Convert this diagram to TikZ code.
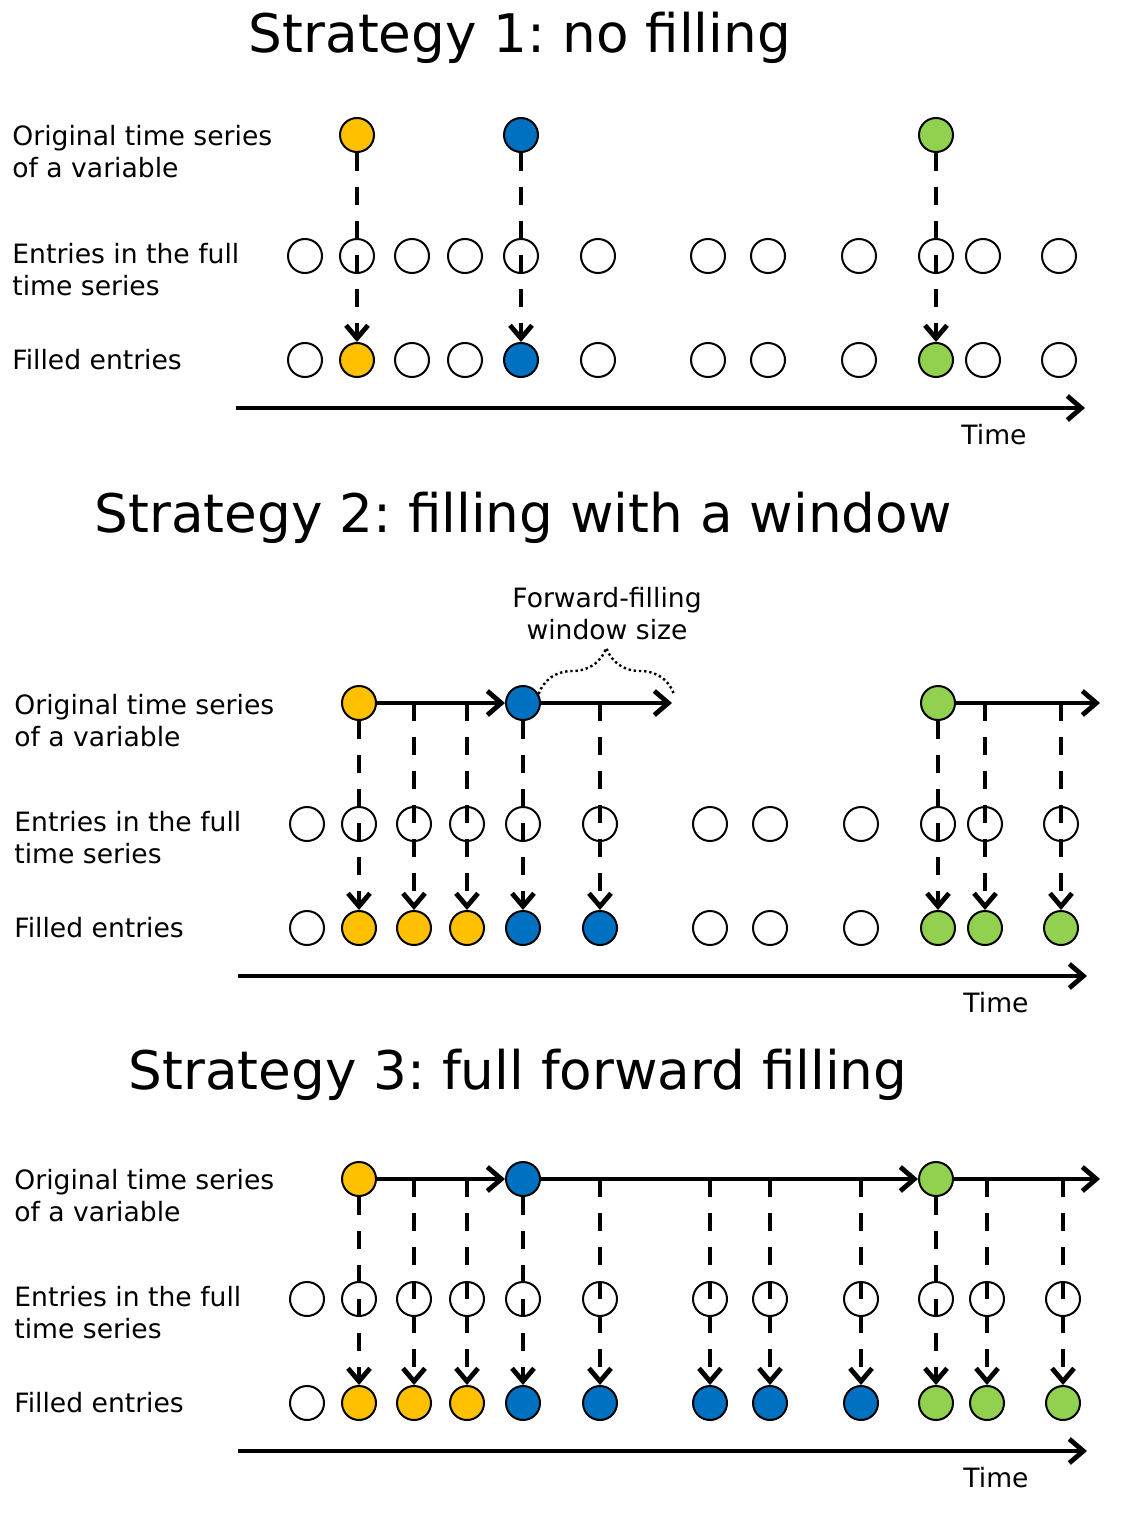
\documentclass[tikz,border=0pt]{standalone}
\usepackage{fontspec}
\setmainfont{DejaVu Sans}
\frenchspacing
\usetikzlibrary{arrows.meta,decorations.pathreplacing}
\definecolor{tsyellow}{HTML}{FFC000}
\definecolor{tsblue}{HTML}{0070C0}
\definecolor{tsgreen}{HTML}{92D050}
\tikzset{
emptyvertex/.style={circle, draw=black!100,fill=white,line width=1pt, inner sep=0pt, minimum size= 17pt},
yellowvertex/.style={emptyvertex, fill=tsyellow},
bluevertex/.style={emptyvertex, fill=tsblue},
greenvertex/.style={emptyvertex, fill=tsgreen},
dasharrow/.style={line width=2.4pt, dash pattern=on 9pt off 8pt, -{Straight Barb[length=6.5pt,width=11pt]}},
solidarrow/.style={line width=2pt, -{Straight Barb[length=7pt,width=12pt,line width=2.4pt]}},
timeaxis/.style={line width=2.2pt, -{Straight Barb[length=7pt,width=12pt,line width=2.4pt]}},
rowlabel/.style={anchor=west, align=left, inner sep=0pt, font=\fontsize{13.3}{16}\selectfont},
titlelabel/.style={inner sep=0pt, font=\fontsize{26.6}{32}\selectfont},
windowbrace/.style={line width=1.2pt, dash pattern=on 1.2pt off 1.4pt, decorate, decoration={brace, amplitude=23pt}},
}

\begin{document}
\begin{tikzpicture}[x=0.5pt,y=-0.5pt]
\useasboundingbox (0,0) rectangle (1120,1514);

% Strategy 1
\begin{scope}[shift={(-2,135)}]
\node[titlelabel] at (522,-97) (title) {Strategy 1: no filling};
\node[rowlabel] at (14,17) (lo) {Original time series\\of a variable};
\node[rowlabel] at (14,135) (le) {Entries in the full\\time series};
\node[rowlabel] at (14,225) (lf) {Filled entries};

\node[emptyvertex] at (307,121) (e1) {};
\node[emptyvertex] at (359,121) (e2) {};
\node[emptyvertex] at (414,121) (e3) {};
\node[emptyvertex] at (467,121) (e4) {};
\node[emptyvertex] at (523,121) (e5) {};
\node[emptyvertex] at (600,121) (e6) {};
\node[emptyvertex] at (710,121) (e7) {};
\node[emptyvertex] at (770,121) (e8) {};
\node[emptyvertex] at (861,121) (e9) {};
\node[emptyvertex] at (938,121) (e10) {};
\node[emptyvertex] at (985,121) (e11) {};
\node[emptyvertex] at (1061,121) (e12) {};

\node[emptyvertex] at (307,225) (f1) {};
\node[yellowvertex] at (359,225) (f2) {};
\node[emptyvertex] at (414,225) (f3) {};
\node[emptyvertex] at (467,225) (f4) {};
\node[bluevertex] at (523,225) (f5) {};
\node[emptyvertex] at (600,225) (f6) {};
\node[emptyvertex] at (710,225) (f7) {};
\node[emptyvertex] at (770,225) (f8) {};
\node[emptyvertex] at (861,225) (f9) {};
\node[greenvertex] at (938,225) (f10) {};
\node[emptyvertex] at (985,225) (f11) {};
\node[emptyvertex] at (1061,225) (f12) {};

\node[yellowvertex] at (359,0) (o1) {};
\node[bluevertex] at (523,0) (o2) {};
\node[greenvertex] at (938,0) (o3) {};

\draw[dasharrow] (o1) -- (f2);
\draw[dasharrow] (o2) -- (f5);
\draw[dasharrow] (o3) -- (f10);

\coordinate (a0) at (238,273);
\coordinate (a1) at (1087,273);
\draw[timeaxis] (a0) -- (a1);
\node[rowlabel, anchor=center] at (996,300) (time) {Time};
\end{scope}

% Strategy 2
\begin{scope}[shift={(0,703)}]
\node[titlelabel] at (523,-185) (title) {Strategy 2: filling with a window};
\node[rowlabel] at (14,18) (lo) {Original time series\\of a variable};
\node[rowlabel] at (14,135) (le) {Entries in the full\\time series};
\node[rowlabel] at (14,225) (lf) {Filled entries};

\node[emptyvertex] at (307,121) (e1) {};
\node[emptyvertex] at (359,121) (e2) {};
\node[emptyvertex] at (414,121) (e3) {};
\node[emptyvertex] at (467,121) (e4) {};
\node[emptyvertex] at (523,121) (e5) {};
\node[emptyvertex] at (600,121) (e6) {};
\node[emptyvertex] at (710,121) (e7) {};
\node[emptyvertex] at (770,121) (e8) {};
\node[emptyvertex] at (861,121) (e9) {};
\node[emptyvertex] at (938,121) (e10) {};
\node[emptyvertex] at (985,121) (e11) {};
\node[emptyvertex] at (1061,121) (e12) {};

\node[emptyvertex] at (307,225) (f1) {};
\node[yellowvertex] at (359,225) (f2) {};
\node[yellowvertex] at (414,225) (f3) {};
\node[yellowvertex] at (467,225) (f4) {};
\node[bluevertex] at (523,225) (f5) {};
\node[bluevertex] at (600,225) (f6) {};
\node[emptyvertex] at (710,225) (f7) {};
\node[emptyvertex] at (770,225) (f8) {};
\node[emptyvertex] at (861,225) (f9) {};
\node[greenvertex] at (938,225) (f10) {};
\node[greenvertex] at (985,225) (f11) {};
\node[greenvertex] at (1061,225) (f12) {};

\node[yellowvertex] at (359,0) (o1) {};
\node[bluevertex] at (523,0) (o2) {};
\node[greenvertex] at (938,0) (o3) {};

\coordinate (h3) at (414,0);
\coordinate (h4) at (467,0);
\coordinate (h6) at (600,0);
\coordinate (h11) at (985,0);
\coordinate (h12) at (1061,0);
\coordinate (w) at (672,0);
\coordinate (wt) at (674,-9);
\coordinate (g) at (1100,0);

\draw[dasharrow] (o1) -- (f2);
\draw[dasharrow] (h3) -- (f3);
\draw[dasharrow] (h4) -- (f4);
\draw[dasharrow] (o2) -- (f5);
\draw[dasharrow] (h6) -- (f6);
\draw[dasharrow] (o3) -- (f10);
\draw[dasharrow] (h11) -- (f11);
\draw[dasharrow] (h12) -- (f12);

\draw[solidarrow] (o1) -- (o2);
\draw[solidarrow] (o2) -- (w);
\draw[solidarrow] (o3) -- (g);

\draw[windowbrace] (o2.30) -- (wt);
\node[rowlabel, anchor=center, align=center] at (607,-89) (wlabel) {Forward-filling\\window size};

\coordinate (a0) at (238,273);
\coordinate (a1) at (1087,273);
\draw[timeaxis] (a0) -- (a1);
\node[rowlabel, anchor=center] at (996,300) (time) {Time};
\end{scope}

% Strategy 3
\begin{scope}[shift={(0,1179)}]
\node[titlelabel] at (518,-104) (title) {Strategy 3: full forward filling};
\node[rowlabel] at (14,17) (lo) {Original time series\\of a variable};
\node[rowlabel] at (14,134) (le) {Entries in the full\\time series};
\node[rowlabel] at (14,224) (lf) {Filled entries};

\node[emptyvertex] at (307,120) (e1) {};
\node[emptyvertex] at (359,120) (e2) {};
\node[emptyvertex] at (414,120) (e3) {};
\node[emptyvertex] at (467,120) (e4) {};
\node[emptyvertex] at (523,120) (e5) {};
\node[emptyvertex] at (600,120) (e6) {};
\node[emptyvertex] at (710,120) (e7) {};
\node[emptyvertex] at (770,120) (e8) {};
\node[emptyvertex] at (861,120) (e9) {};
\node[emptyvertex] at (936,120) (e10) {};
\node[emptyvertex] at (987,120) (e11) {};
\node[emptyvertex] at (1063,120) (e12) {};

\node[emptyvertex] at (307,224) (f1) {};
\node[yellowvertex] at (359,224) (f2) {};
\node[yellowvertex] at (414,224) (f3) {};
\node[yellowvertex] at (467,224) (f4) {};
\node[bluevertex] at (523,224) (f5) {};
\node[bluevertex] at (600,224) (f6) {};
\node[bluevertex] at (710,224) (f7) {};
\node[bluevertex] at (770,224) (f8) {};
\node[bluevertex] at (861,224) (f9) {};
\node[greenvertex] at (936,224) (f10) {};
\node[greenvertex] at (987,224) (f11) {};
\node[greenvertex] at (1063,224) (f12) {};

\node[yellowvertex] at (359,0) (o1) {};
\node[bluevertex] at (523,0) (o2) {};
\node[greenvertex] at (936,0) (o3) {};

\coordinate (h3) at (414,0);
\coordinate (h4) at (467,0);
\coordinate (h6) at (600,0);
\coordinate (h7) at (710,0);
\coordinate (h8) at (770,0);
\coordinate (h9) at (861,0);
\coordinate (h11) at (987,0);
\coordinate (h12) at (1063,0);
\coordinate (g) at (1100,0);

\draw[dasharrow] (o1) -- (f2);
\draw[dasharrow] (h3) -- (f3);
\draw[dasharrow] (h4) -- (f4);
\draw[dasharrow] (o2) -- (f5);
\draw[dasharrow] (h6) -- (f6);
\draw[dasharrow] (h7) -- (f7);
\draw[dasharrow] (h8) -- (f8);
\draw[dasharrow] (h9) -- (f9);
\draw[dasharrow] (o3) -- (f10);
\draw[dasharrow] (h11) -- (f11);
\draw[dasharrow] (h12) -- (f12);

\draw[solidarrow] (o1) -- (o2);
\draw[solidarrow] (o2) -- (o3);
\draw[solidarrow] (o3) -- (g);

\coordinate (a0) at (238,272);
\coordinate (a1) at (1087,272);
\draw[timeaxis] (a0) -- (a1);
\node[rowlabel, anchor=center] at (996,299) (time) {Time};
\end{scope}

\end{tikzpicture}
\end{document}
